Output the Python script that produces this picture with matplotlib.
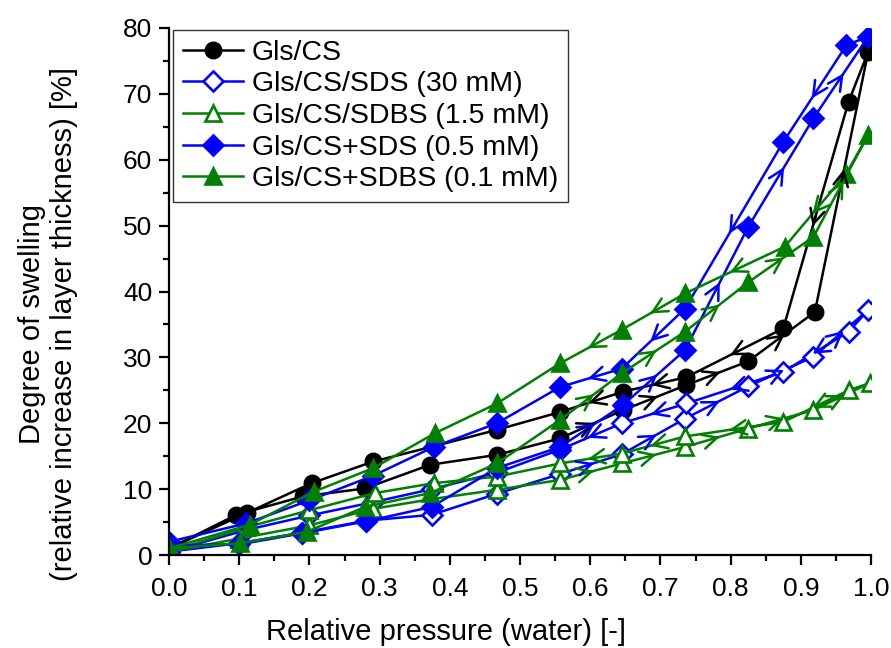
import matplotlib
matplotlib.use('Agg')
import matplotlib.pyplot as plt
from matplotlib.ticker import MultipleLocator

plt.rcParams['font.family'] = ['Liberation Sans', 'DejaVu Sans']

# swelling loops: adsorption (rising p/p0) followed by desorption
gls_cs_x = [0, 0.096, 0.191, 0.279, 0.372, 0.467, 0.557, 0.647, 0.737, 0.825, 0.920, 0.996,
            0.968, 0.875, 0.737, 0.647, 0.557, 0.467, 0.377, 0.291, 0.203, 0.111, 0]
gls_cs_y = [1.0, 6.1, 8.9, 10.1, 13.7, 15.2, 17.7, 22.0, 25.8, 29.4, 36.9, 76.4,
            68.8, 34.4, 27.0, 24.8, 21.7, 19.0, 16.5, 14.2, 10.9, 6.4, 1.0]

sds30_x = [0, 0.100, 0.190, 0.280, 0.374, 0.467, 0.557, 0.645, 0.735, 0.825, 0.918, 0.996,
           0.968, 0.875, 0.737, 0.645, 0.557, 0.467, 0.374, 0.290, 0.200, 0.110, 0]
sds30_y = [0.5, 1.8, 3.4, 5.2, 6.1, 9.3, 12.3, 15.3, 20.7, 25.6, 30.1, 37.2,
           33.9, 27.8, 23.0, 20.0, 16.0, 12.5, 10.0, 8.0, 6.0, 3.8, 0.5]

sdbs15_x = [0, 0.100, 0.200, 0.290, 0.375, 0.467, 0.557, 0.645, 0.735, 0.825, 0.918, 0.998,
            0.968, 0.875, 0.735, 0.645, 0.557, 0.467, 0.377, 0.293, 0.200, 0.110, 0]
sdbs15_y = [0.5, 2.5, 4.5, 7.0, 8.5, 9.9, 11.4, 13.9, 16.4, 19.2, 22.0, 26.1,
            25.0, 20.2, 18.0, 15.4, 13.9, 11.9, 10.9, 9.4, 6.8, 4.2, 0.5]

sds05_x = [0, 0.100, 0.190, 0.280, 0.374, 0.467, 0.557, 0.647, 0.735, 0.825, 0.918, 0.996,
           0.965, 0.875, 0.735, 0.645, 0.557, 0.467, 0.377, 0.290, 0.200, 0.110, 0]
sds05_y = [1.5, 1.6, 3.3, 5.1, 7.3, 13.2, 16.4, 22.8, 31.1, 49.8, 66.3, 78.7,
           77.4, 62.7, 37.4, 28.3, 25.5, 20.0, 16.4, 12.0, 8.3, 4.8, 2.0]

sdbs01_x = [0, 0.101, 0.196, 0.279, 0.372, 0.467, 0.557, 0.645, 0.735, 0.825, 0.918, 0.996,
            0.965, 0.877, 0.735, 0.645, 0.557, 0.467, 0.379, 0.291, 0.206, 0.115, 0]
sdbs01_y = [1.0, 1.8, 3.5, 7.3, 9.4, 13.9, 20.5, 27.6, 33.9, 41.4, 48.3, 63.8,
            57.9, 46.8, 39.7, 34.2, 29.1, 23.0, 18.5, 13.2, 9.6, 4.6, 1.0]

series = [
    ('Gls/CS', gls_cs_x, gls_cs_y, 'black', 'o', 'black'),
    ('Gls/CS/SDS (30 mM)', sds30_x, sds30_y, 'blue', 'D', 'white'),
    ('Gls/CS/SDBS (1.5 mM)', sdbs15_x, sdbs15_y, 'green', '^', 'white'),
    ('Gls/CS+SDS (0.5 mM)', sds05_x, sds05_y, 'blue', 'D', 'blue'),
    ('Gls/CS+SDBS (0.1 mM)', sdbs01_x, sdbs01_y, 'green', '^', 'green'),
]

fig = plt.figure(figsize=(8.91, 6.48), dpi=100)
ax = fig.add_axes([0.1897, 0.1435, 0.7879, 0.8133])

for label, xs, ys, c, m, fc in series:
    ms = {'o': 11, 'D': 10, '^': 11}[m]
    ax.plot(xs, ys, color=c, lw=1.8, marker=m, ms=ms, mfc=fc, mec=c, mew=1.9, label=label)
    # direction arrows on the upper-pressure segments
    for i in range(len(xs) - 1):
        x0, y0, x1, y1 = xs[i], ys[i], xs[i + 1], ys[i + 1]
        if min(x0, x1) < 0.55 or abs(x1 - x0) < 0.04:
            continue
        xm, ym = (x0 + x1) / 2, (y0 + y1) / 2
        ax.annotate('', xy=(xm + (x1 - x0) * 0.05, ym + (y1 - y0) * 0.05), xytext=(xm, ym),
                    arrowprops=dict(arrowstyle='->', color=c, lw=1.8, mutation_scale=26,
                                    shrinkA=0, shrinkB=0))

ax.set_xlim(0, 1.0)
ax.set_ylim(0, 80)
ax.xaxis.set_major_locator(MultipleLocator(0.1))
ax.xaxis.set_minor_locator(MultipleLocator(0.05))
ax.yaxis.set_major_locator(MultipleLocator(10))
ax.yaxis.set_minor_locator(MultipleLocator(5))
ax.xaxis.set_major_formatter(plt.FormatStrFormatter('%.1f'))

for s in ['top', 'right']:
    ax.spines[s].set_visible(False)
for s in ['left', 'bottom']:
    ax.spines[s].set_linewidth(1.6)
ax.tick_params(which='major', direction='out', length=7, width=1.6, labelsize=19, pad=5)
ax.tick_params(axis='x', which='major', pad=9)
ax.tick_params(which='minor', direction='out', length=4, width=1.6)

# axis titles centred on the figure
fig.text(0.5, 1 - 632 / 648, 'Relative pressure (water) [-]', fontsize=21,
         ha='center', va='center')
fig.text(48 / 891, 0.5, 'Degree of swelling\n(relative increase in layer thickness) [%]',
         fontsize=21, rotation=90, ha='center', va='center', multialignment='center',
         linespacing=1.2)

leg = ax.legend(loc='upper left', bbox_to_anchor=(0.006, 0.997), fontsize=20.5, frameon=True,
                fancybox=False, edgecolor='black', handlelength=2.1, handletextpad=0.3,
                borderaxespad=0, labelspacing=0.2, borderpad=0.35)
leg.get_frame().set_linewidth(1.0)

fig.savefig('out.png', dpi=100)
